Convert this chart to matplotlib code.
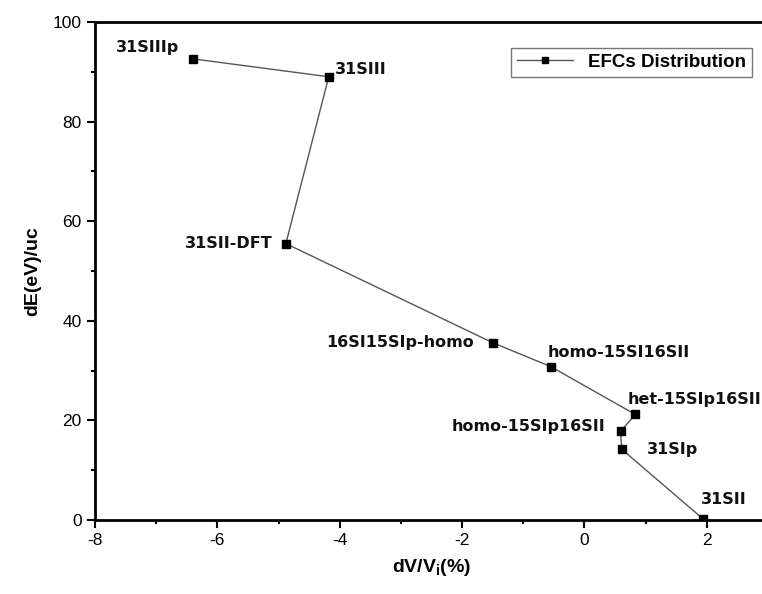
import matplotlib
matplotlib.use('Agg')
import matplotlib.pyplot as plt
from matplotlib.ticker import MultipleLocator

# EFC data (in path order)
labels = ['31SIIIp', '31SIII', '31SII-DFT', '16SI15SIp-homo', 'homo-15SI16SII',
          'het-15SIp16SII', 'homo-15SIp16SII', '31SIp', '31SII']
dv = [-6.4, -4.18, -4.88, -1.5, -0.55, 0.83, 0.59, 0.61, 1.93]
de = [92.6, 89.0, 55.5, 35.6, 30.8, 21.2, 17.8, 14.2, 0.3]

# label offsets in pixels and alignment
offsets = [(-14, 11, 'right'), (6, 7, 'left'), (-13, 0, 'right'), (-19, 0, 'right'),
           (-3, 14, 'left'), (-8, 15, 'left'), (-15, 5, 'right'), (25, 0, 'left'),
           (-2, 19, 'left')]

plt.rcParams['font.family'] = ['Liberation Sans', 'DejaVu Sans']
plt.rcParams['axes.unicode_minus'] = False

fig = plt.figure(figsize=(7.62, 5.94), dpi=100)
ax = fig.add_axes([95 / 762, 74 / 594, 673 / 762, 498 / 594])

ax.plot(dv, de, color='#555555', linewidth=1.0, marker='s', markersize=6,
        markerfacecolor='black', markeredgecolor='black', label='EFCs Distribution')

for lab, x, y, (dx, dy, ha) in zip(labels, dv, de, offsets):
    ax.annotate(lab, (x, y), xytext=(dx, dy), textcoords='offset pixels',
                ha=ha, va='center', fontsize=11.5, fontweight='bold',
                family='DejaVu Sans', color='#111111')

ax.set_xlim(-8, 3)
ax.set_ylim(0, 100)
ax.xaxis.set_major_locator(MultipleLocator(2))
ax.xaxis.set_minor_locator(MultipleLocator(1))
ax.yaxis.set_major_locator(MultipleLocator(20))
ax.yaxis.set_minor_locator(MultipleLocator(10))
ax.tick_params(which='major', direction='out', length=6, width=1.5, labelsize=12.5)
ax.tick_params(which='minor', direction='out', length=3, width=1.5)
for s in ax.spines.values():
    s.set_linewidth(2)

ax.set_xlabel('dV/V$_\\mathregular{i}$(%)', fontsize=14, fontweight='bold', labelpad=6)
ax.set_ylabel('dE(eV)/uc', fontsize=14, fontweight='bold', labelpad=8)

leg = ax.legend(loc='upper right', bbox_to_anchor=(0.99, 0.966), fancybox=False,
                edgecolor='#555555', prop={'weight': 'bold', 'size': 13.5},
                handlelength=3.0, borderpad=0.3, markerscale=0.8)
leg.get_frame().set_linewidth(1.0)

fig.savefig('out.png', dpi=100)
